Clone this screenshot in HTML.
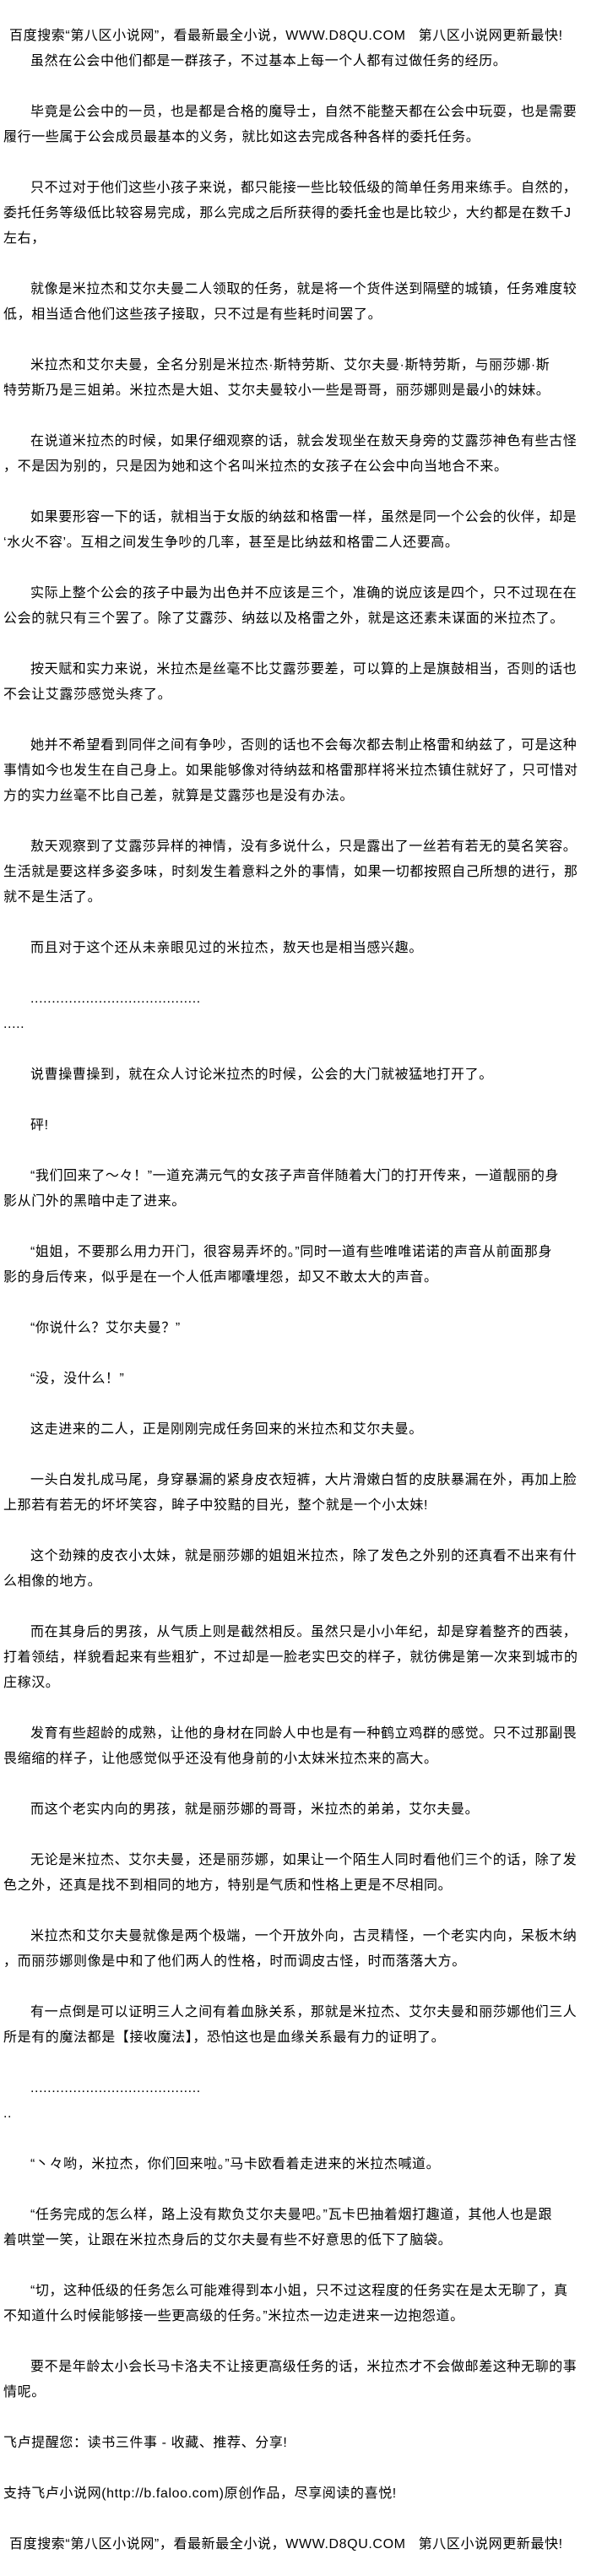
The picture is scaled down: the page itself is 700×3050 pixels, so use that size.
<!DOCTYPE html>
<html><head><meta charset="utf-8">
<style>
html,body{margin:0;padding:0;background:#fff;}
body{width:700px;height:3050px;overflow:hidden;}
#w{padding-top:28px;font-family:"Liberation Sans","Noto Sans CJK SC",sans-serif;font-size:16px;color:#000;letter-spacing:0.6px;}
.l{height:30px;line-height:30px;white-space:nowrap;padding-left:4px;}
.i{padding-left:36px;}
.h{padding-left:11px;}
</style></head><body><div id="w">
<div class="l h">百度搜索“第八区小说网”，看最新最全小说，WWW.D8QU.COM&nbsp;&nbsp;&nbsp;第八区小说网更新最快!</div>
<div class="l i">虽然在公会中他们都是一群孩子，不过基本上每一个人都有过做任务的经历。</div>
<div class="l"></div>
<div class="l i">毕竟是公会中的一员，也是都是合格的魔导士，自然不能整天都在公会中玩耍，也是需要</div>
<div class="l">履行一些属于公会成员最基本的义务，就比如这去完成各种各样的委托任务。</div>
<div class="l"></div>
<div class="l i">只不过对于他们这些小孩子来说，都只能接一些比较低级的简单任务用来练手。自然的，</div>
<div class="l">委托任务等级低比较容易完成，那么完成之后所获得的委托金也是比较少，大约都是在数千J</div>
<div class="l">左右，</div>
<div class="l"></div>
<div class="l i">就像是米拉杰和艾尔夫曼二人领取的任务，就是将一个货件送到隔壁的城镇，任务难度较</div>
<div class="l">低，相当适合他们这些孩子接取，只不过是有些耗时间罢了。</div>
<div class="l"></div>
<div class="l i">米拉杰和艾尔夫曼，全名分别是米拉杰·斯特劳斯、艾尔夫曼·斯特劳斯，与丽莎娜·斯</div>
<div class="l">特劳斯乃是三姐弟。米拉杰是大姐、艾尔夫曼较小一些是哥哥，丽莎娜则是最小的妹妹。</div>
<div class="l"></div>
<div class="l i">在说道米拉杰的时候，如果仔细观察的话，就会发现坐在敖天身旁的艾露莎神色有些古怪</div>
<div class="l">，不是因为别的，只是因为她和这个名叫米拉杰的女孩子在公会中向当地合不来。</div>
<div class="l"></div>
<div class="l i">如果要形容一下的话，就相当于女版的纳兹和格雷一样，虽然是同一个公会的伙伴，却是</div>
<div class="l">‘水火不容’。互相之间发生争吵的几率，甚至是比纳兹和格雷二人还要高。</div>
<div class="l"></div>
<div class="l i">实际上整个公会的孩子中最为出色并不应该是三个，准确的说应该是四个，只不过现在在</div>
<div class="l">公会的就只有三个罢了。除了艾露莎、纳兹以及格雷之外，就是这还素未谋面的米拉杰了。</div>
<div class="l"></div>
<div class="l i">按天赋和实力来说，米拉杰是丝毫不比艾露莎要差，可以算的上是旗鼓相当，否则的话也</div>
<div class="l">不会让艾露莎感觉头疼了。</div>
<div class="l"></div>
<div class="l i">她并不希望看到同伴之间有争吵，否则的话也不会每次都去制止格雷和纳兹了，可是这种</div>
<div class="l">事情如今也发生在自己身上。如果能够像对待纳兹和格雷那样将米拉杰镇住就好了，只可惜对</div>
<div class="l">方的实力丝毫不比自己差，就算是艾露莎也是没有办法。</div>
<div class="l"></div>
<div class="l i">敖天观察到了艾露莎异样的神情，没有多说什么，只是露出了一丝若有若无的莫名笑容。</div>
<div class="l">生活就是要这样多姿多味，时刻发生着意料之外的事情，如果一切都按照自己所想的进行，那</div>
<div class="l">就不是生活了。</div>
<div class="l"></div>
<div class="l i">而且对于这个还从未亲眼见过的米拉杰，敖天也是相当感兴趣。</div>
<div class="l"></div>
<div class="l i">........................................</div>
<div class="l">.....</div>
<div class="l"></div>
<div class="l i">说曹操曹操到，就在众人讨论米拉杰的时候，公会的大门就被猛地打开了。</div>
<div class="l"></div>
<div class="l i">砰!</div>
<div class="l"></div>
<div class="l i">“我们回来了～々！”一道充满元气的女孩子声音伴随着大门的打开传来，一道靓丽的身</div>
<div class="l">影从门外的黑暗中走了进来。</div>
<div class="l"></div>
<div class="l i">“姐姐，不要那么用力开门，很容易弄坏的。”同时一道有些唯唯诺诺的声音从前面那身</div>
<div class="l">影的身后传来，似乎是在一个人低声嘟囔埋怨，却又不敢太大的声音。</div>
<div class="l"></div>
<div class="l i">“你说什么？艾尔夫曼？”</div>
<div class="l"></div>
<div class="l i">“没，没什么！”</div>
<div class="l"></div>
<div class="l i">这走进来的二人，正是刚刚完成任务回来的米拉杰和艾尔夫曼。</div>
<div class="l"></div>
<div class="l i">一头白发扎成马尾，身穿暴漏的紧身皮衣短裤，大片滑嫩白皙的皮肤暴漏在外，再加上脸</div>
<div class="l">上那若有若无的坏坏笑容，眸子中狡黠的目光，整个就是一个小太妹!</div>
<div class="l"></div>
<div class="l i">这个劲辣的皮衣小太妹，就是丽莎娜的姐姐米拉杰，除了发色之外别的还真看不出来有什</div>
<div class="l">么相像的地方。</div>
<div class="l"></div>
<div class="l i">而在其身后的男孩，从气质上则是截然相反。虽然只是小小年纪，却是穿着整齐的西装，</div>
<div class="l">打着领结，样貌看起来有些粗犷，不过却是一脸老实巴交的样子，就彷佛是第一次来到城市的</div>
<div class="l">庄稼汉。</div>
<div class="l"></div>
<div class="l i">发育有些超龄的成熟，让他的身材在同龄人中也是有一种鹤立鸡群的感觉。只不过那副畏</div>
<div class="l">畏缩缩的样子，让他感觉似乎还没有他身前的小太妹米拉杰来的高大。</div>
<div class="l"></div>
<div class="l i">而这个老实内向的男孩，就是丽莎娜的哥哥，米拉杰的弟弟，艾尔夫曼。</div>
<div class="l"></div>
<div class="l i">无论是米拉杰、艾尔夫曼，还是丽莎娜，如果让一个陌生人同时看他们三个的话，除了发</div>
<div class="l">色之外，还真是找不到相同的地方，特别是气质和性格上更是不尽相同。</div>
<div class="l"></div>
<div class="l i">米拉杰和艾尔夫曼就像是两个极端，一个开放外向，古灵精怪，一个老实内向，呆板木纳</div>
<div class="l">，而丽莎娜则像是中和了他们两人的性格，时而调皮古怪，时而落落大方。</div>
<div class="l"></div>
<div class="l i">有一点倒是可以证明三人之间有着血脉关系，那就是米拉杰、艾尔夫曼和丽莎娜他们三人</div>
<div class="l">所是有的魔法都是【接收魔法】，恐怕这也是血缘关系最有力的证明了。</div>
<div class="l"></div>
<div class="l i">........................................</div>
<div class="l">..</div>
<div class="l"></div>
<div class="l i">“丶々哟，米拉杰，你们回来啦。”马卡欧看着走进来的米拉杰喊道。</div>
<div class="l"></div>
<div class="l i">“任务完成的怎么样，路上没有欺负艾尔夫曼吧。”瓦卡巴抽着烟打趣道，其他人也是跟</div>
<div class="l">着哄堂一笑，让跟在米拉杰身后的艾尔夫曼有些不好意思的低下了脑袋。</div>
<div class="l"></div>
<div class="l i">“切，这种低级的任务怎么可能难得到本小姐，只不过这程度的任务实在是太无聊了，真</div>
<div class="l">不知道什么时候能够接一些更高级的任务。”米拉杰一边走进来一边抱怨道。</div>
<div class="l"></div>
<div class="l i">要不是年龄太小会长马卡洛夫不让接更高级任务的话，米拉杰才不会做邮差这种无聊的事</div>
<div class="l">情呢。</div>
<div class="l"></div>
<div class="l">飞卢提醒您：读书三件事 - 收藏、推荐、分享!</div>
<div class="l"></div>
<div class="l">支持飞卢小说网(http://b.faloo.com)原创作品，尽享阅读的喜悦!</div>
<div class="l"></div>
<div class="l h">百度搜索“第八区小说网”，看最新最全小说，WWW.D8QU.COM&nbsp;&nbsp;&nbsp;第八区小说网更新最快!</div>
</div></body></html>
